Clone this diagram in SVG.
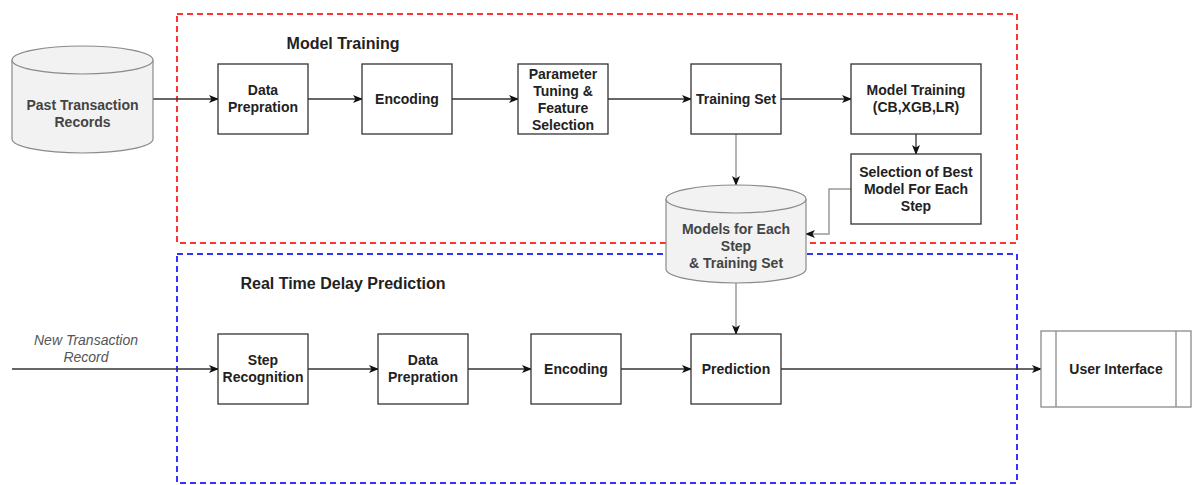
<svg xmlns="http://www.w3.org/2000/svg" width="1197" height="485" viewBox="0 0 1197 485">
<defs>
<marker id="arr" viewBox="0 0 10 8" markerWidth="10" markerHeight="8" refX="9" refY="4" orient="auto" markerUnits="userSpaceOnUse">
<path d="M0,0 L10,4 L0,8 L2.5,4 Z" fill="#111"/>
</marker>
</defs>
<style>
.bg{fill:#ffffff}
.grp{fill:none;stroke-width:2;stroke-dasharray:6 4}
.red{stroke:#ff3333}
.blue{stroke:#3333ff}
.box{fill:#ffffff;stroke:#333333;stroke-width:1.3}
.cyl{fill:#f2f2f2;stroke:#8a8a8a;stroke-width:1.2}
.ui{fill:#ffffff;stroke:#8a8a8a;stroke-width:1.3}
.t{font-family:"Liberation Sans",Arial,sans-serif;font-size:14px;font-weight:bold;fill:#222;text-anchor:middle}
.ct{font-family:"Liberation Sans",Arial,sans-serif;font-size:14px;font-weight:bold;fill:#444;text-anchor:middle}
.title{font-family:"Liberation Sans",Arial,sans-serif;font-size:16px;font-weight:bold;fill:#222;text-anchor:middle}
.lbl{font-family:"Liberation Sans",Arial,sans-serif;font-size:14px;font-style:italic;fill:#555;text-anchor:middle}
.c{fill:none;stroke:#333;stroke-width:1.3}
.cg{fill:none;stroke:#999;stroke-width:1.5}
</style>
<rect class="bg" x="0" y="0" width="1197" height="485"/>

<g id="group-model-training">
<rect class="grp red" x="177" y="14" width="840" height="229"/>
<text class="title" x="343" y="49">Model Training</text>
</g>
<g id="group-real-time">
<rect class="grp blue" x="177" y="254" width="840" height="229"/>
<text class="title" x="343" y="289">Real Time Delay Prediction</text>
</g>

<g id="connectors">
<path class="c" d="M153,99 H218" marker-end="url(#arr)"/>
<path class="c" d="M308,99 H362" marker-end="url(#arr)"/>
<path class="c" d="M452,99 H518" marker-end="url(#arr)"/>
<path class="c" d="M608,99 H691" marker-end="url(#arr)"/>
<path class="c" d="M781,99 H851" marker-end="url(#arr)"/>
<path class="c" d="M916,134 V154" marker-end="url(#arr)"/>
<path class="cg" d="M736,134 V185" marker-end="url(#arr)"/>
<path class="cg" d="M851,189 H829 V234 H806" marker-end="url(#arr)"/>
<path class="cg" d="M736,283 V334" marker-end="url(#arr)"/>
<path class="c" d="M12,369 H218" marker-end="url(#arr)"/>
<path class="c" d="M308,369 H378" marker-end="url(#arr)"/>
<path class="c" d="M468,369 H531" marker-end="url(#arr)"/>
<path class="c" d="M621,369 H691" marker-end="url(#arr)"/>
<path class="c" d="M781,369 H1041" marker-end="url(#arr)"/>
<text class="lbl" x="86" y="345">New Transaction</text>
<text class="lbl" x="86" y="362">Record</text>
</g>

<g id="past-records">
<path class="cyl" d="M12,60 A70.5,14 0 0 1 153,60 V139 A70.5,14 0 0 1 12,139 Z"/>
<path class="cyl" fill="none" d="M12,60 A70.5,14 0 0 0 153,60"/>
<text class="ct" x="82.5" y="110">Past Transaction</text>
<text class="ct" x="82.5" y="127">Records</text>
</g>

<g id="data-prep-1">
<rect class="box" x="218" y="64" width="90" height="70"/>
<text class="t" x="263" y="95">Data</text>
<text class="t" x="263" y="112">Prepration</text>
</g>
<g id="encoding-1">
<rect class="box" x="362" y="64" width="90" height="70"/>
<text class="t" x="407" y="104">Encoding</text>
</g>
<g id="param-tuning">
<rect class="box" x="518" y="64" width="90" height="70"/>
<text class="t" x="563" y="79">Parameter</text>
<text class="t" x="563" y="96">Tuning &amp;</text>
<text class="t" x="563" y="113">Feature</text>
<text class="t" x="563" y="130">Selection</text>
</g>
<g id="training-set">
<rect class="box" x="691" y="64" width="90" height="70"/>
<text class="t" x="736" y="104">Training Set</text>
</g>
<g id="model-training">
<rect class="box" x="851" y="64" width="130" height="70"/>
<text class="t" x="916" y="95">Model Training</text>
<text class="t" x="916" y="112">(CB,XGB,LR)</text>
</g>
<g id="selection-best">
<rect class="box" x="851" y="154" width="130" height="70"/>
<text class="t" x="916" y="177">Selection of Best</text>
<text class="t" x="916" y="194">Model For Each</text>
<text class="t" x="916" y="211">Step</text>
</g>
<g id="models-store">
<path class="cyl" d="M666,199 A70,14 0 0 1 806,199 V269 A70,14 0 0 1 666,269 Z"/>
<path class="cyl" fill="none" d="M666,199 A70,14 0 0 0 806,199"/>
<text class="ct" x="736" y="234">Models for Each</text>
<text class="ct" x="736" y="251">Step</text>
<text class="ct" x="736" y="268">&amp; Training Set</text>
</g>

<g id="step-recognition">
<rect class="box" x="218" y="334" width="90" height="70"/>
<text class="t" x="263" y="365">Step</text>
<text class="t" x="263" y="382">Recognition</text>
</g>
<g id="data-prep-2">
<rect class="box" x="378" y="334" width="90" height="70"/>
<text class="t" x="423" y="365">Data</text>
<text class="t" x="423" y="382">Prepration</text>
</g>
<g id="encoding-2">
<rect class="box" x="531" y="334" width="90" height="70"/>
<text class="t" x="576" y="374">Encoding</text>
</g>
<g id="prediction">
<rect class="box" x="691" y="334" width="90" height="70"/>
<text class="t" x="736" y="374">Prediction</text>
</g>
<g id="user-interface">
<rect class="ui" x="1041" y="331" width="150" height="76"/>
<path class="ui" d="M1056,331 V407 M1176,331 V407"/>
<text class="t" x="1116" y="374">User Interface</text>
</g>
</svg>
